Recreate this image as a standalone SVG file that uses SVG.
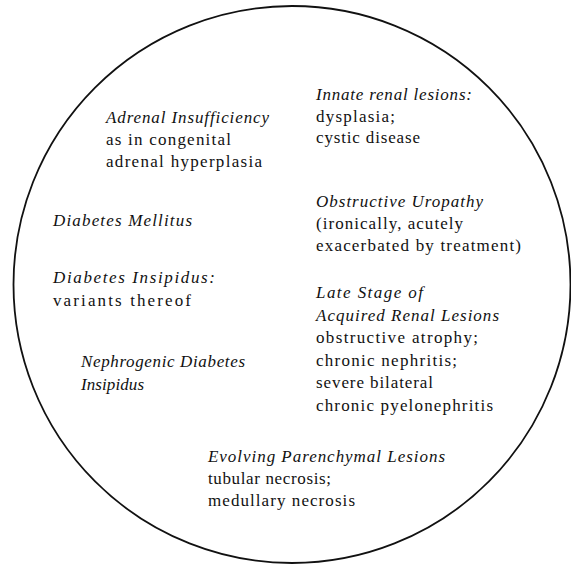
<svg xmlns="http://www.w3.org/2000/svg" width="571" height="566" viewBox="0 0 571 566">
<style>
text { font-family: "Liberation Serif", "Times New Roman", serif; font-size: 17px; fill: #111; }
.i { font-style: italic; }
.ring { fill: none; stroke: #111; stroke-width: 1.8; }
</style>
<rect width="571" height="566" fill="#fff"/>
<circle id="circle" class="ring" cx="292" cy="284.5" r="278.5"/>
<g id="adrenal">
<text class="i" x="106" y="123" textLength="163">Adrenal Insufficiency</text>
<text x="106" y="145" textLength="125">as in congenital</text>
<text x="106" y="167" textLength="156">adrenal hyperplasia</text>
</g>
<g id="innate">
<text class="i" x="316" y="100" textLength="156">Innate renal lesions:</text>
<text x="316" y="122" textLength="79">dysplasia;</text>
<text x="316" y="143" textLength="104">cystic disease</text>
</g>
<g id="obstructive">
<text class="i" x="316" y="207" textLength="167">Obstructive Uropathy</text>
<text x="316" y="229" textLength="147">(ironically, acutely</text>
<text x="316" y="251" textLength="205">exacerbated by treatment)</text>
</g>
<g id="mellitus">
<text class="i" x="53" y="226" textLength="139">Diabetes Mellitus</text>
</g>
<g id="insipidus">
<text class="i" x="53" y="283" textLength="162">Diabetes Insipidus:</text>
<text x="53" y="306" textLength="138">variants thereof</text>
</g>
<g id="nephrogenic">
<text class="i" x="81" y="367" textLength="164">Nephrogenic Diabetes</text>
<text class="i" x="81" y="390" textLength="63">Insipidus</text>
</g>
<g id="late-stage">
<text class="i" x="316" y="298" textLength="107">Late Stage of</text>
<text class="i" x="316" y="321" textLength="183">Acquired Renal Lesions</text>
<text x="316" y="343" textLength="162">obstructive atrophy;</text>
<text x="316" y="366" textLength="141">chronic nephritis;</text>
<text x="316" y="388" textLength="117">severe bilateral</text>
<text x="316" y="411" textLength="177">chronic pyelonephritis</text>
</g>
<g id="evolving">
<text class="i" x="208" y="462" textLength="237">Evolving Parenchymal Lesions</text>
<text x="208" y="484" textLength="123">tubular necrosis;</text>
<text x="208" y="506" textLength="147">medullary necrosis</text>
</g>
</svg>
